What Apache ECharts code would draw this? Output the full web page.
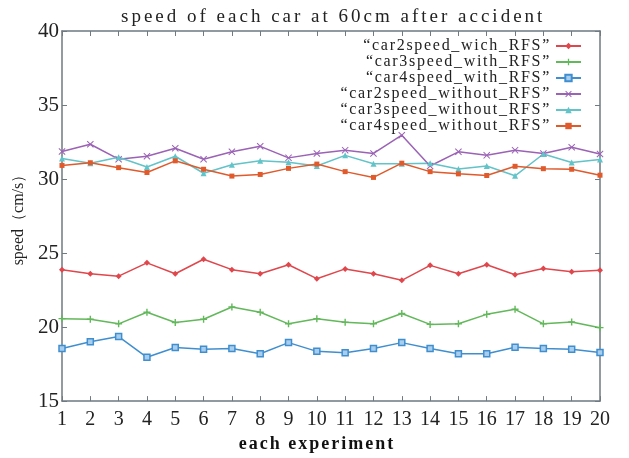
<!DOCTYPE html>
<html>
<head>
<meta charset="utf-8">
<script src="https://cdn.jsdelivr.net/npm/echarts@6/dist/echarts.min.js"></script>
<style>
html, body { margin: 0; padding: 0; background: #fff; }
#chart { width: 629px; height: 458px; }
</style>
</head>
<body>
<div id="chart"></div>
<script>
// values
var experiments = ['1','2','3','4','5','6','7','8','9','10','11','12','13','14','15','16','17','18','19','20'];
var yTicks = [15, 20, 25, 30, 35, 40];

var car2With = [23.88, 23.6, 23.44, 24.34, 23.6, 24.58, 23.88, 23.6, 24.21, 23.27, 23.93, 23.6, 23.16, 24.17, 23.6, 24.21, 23.53, 23.95, 23.73, 23.84];
var car3With = [20.57, 20.53, 20.22, 21.0, 20.31, 20.53, 21.36, 21.0, 20.22, 20.57, 20.33, 20.22, 20.92, 20.18, 20.22, 20.86, 21.2, 20.22, 20.35, 19.96];
var car4With = [18.55, 19.01, 19.36, 17.96, 18.62, 18.51, 18.55, 18.2, 18.95, 18.36, 18.27, 18.55, 18.95, 18.55, 18.2, 18.2, 18.64, 18.55, 18.51, 18.29];
var car2Without = [31.86, 32.35, 31.34, 31.54, 32.08, 31.34, 31.84, 32.21, 31.43, 31.73, 31.95, 31.73, 32.96, 30.88, 31.84, 31.6, 31.95, 31.73, 32.15, 31.69];
var car3Without = [31.38, 31.07, 31.47, 30.81, 31.54, 30.39, 30.96, 31.23, 31.14, 30.88, 31.6, 31.03, 31.03, 31.07, 30.68, 30.88, 30.22, 31.69, 31.12, 31.32];
var car4Without = [30.92, 31.1, 30.77, 30.44, 31.23, 30.66, 30.2, 30.31, 30.72, 31.01, 30.5, 30.11, 31.07, 30.5, 30.35, 30.24, 30.86, 30.7, 30.66, 30.26];

var names = [
    '\u201Ccar2speed_wich_RFS\u201D',
    '\u201Ccar3speed_with_RFS\u201D',
    '\u201Ccar4speed_with_RFS\u201D',
    '\u201Ccar2speed_without_RFS\u201D',
    '\u201Ccar3speed_without_RFS\u201D',
    '\u201Ccar4speed_without_RFS\u201D'
];
var titleText = 'speed of each car at 60cm after accident';
var xName = 'each experiment';

var serif = 'Liberation Serif';
var axisGray = '#6f7a82';
var plusIcon = 'path://M4,0H6V4H10V6H6V10H4V6H0V4H4Z';
var crossIcon = 'path://M1,0L5,4L9,0L10,1L6,5L10,9L9,10L5,6L1,10L0,9L4,5L0,1Z';

// the original lettering is tracked wider than the font's default
function spacingFor(text) {
    if (text === titleText) return '3px';
    if (text === xName) return '2px';
    if (names.indexOf(text) >= 0) return '1.7px';
    return '0px';
}
var origFillText = CanvasRenderingContext2D.prototype.fillText;
CanvasRenderingContext2D.prototype.fillText = function (text, x, y, maxWidth) {
    var prev = this.letterSpacing;
    this.letterSpacing = spacingFor(text);
    if (maxWidth === undefined) {
        origFillText.call(this, text, x, y);
    } else {
        origFillText.call(this, text, x, y, maxWidth);
    }
    this.letterSpacing = prev;
};

function line(name, data, color, symbol, size, fill) {
    return {
        name: name,
        type: 'line',
        data: data,
        symbol: symbol,
        symbolSize: size,
        showAllSymbol: true,
        lineStyle: { color: color, width: 1.5 },
        itemStyle: { color: fill || color, borderColor: color, borderWidth: fill ? 1.5 : 0 },
        animation: false
    };
}

var myChart = echarts.init(document.getElementById('chart'));

var option = {
    backgroundColor: '#fff',
    title: {
        text: titleText,
        left: 116,
        top: 3,
        textStyle: { fontFamily: serif, fontSize: 19, fontWeight: 'normal', color: '#222' }
    },
    legend: {
        orient: 'vertical',
        right: 42,
        top: 33,
        align: 'right',
        itemWidth: 25,
        itemHeight: 8,
        itemGap: 0,
        data: names,
        textStyle: { fontFamily: serif, fontSize: 16, color: '#222' }
    },
    grid: { left: 62, right: 29, top: 31, bottom: 48 },
    xAxis: [
        {
            type: 'category',
            data: experiments,
            boundaryGap: false,
            name: xName,
            nameLocation: 'middle',
            nameGap: 29,
            nameTextStyle: { fontFamily: serif, fontSize: 18, fontWeight: 'bold', color: '#111', padding: [0, 28, 0, 0] },
            axisLine: { lineStyle: { color: axisGray, width: 1.5 } },
            axisTick: { inside: true, length: 5, alignWithLabel: true, lineStyle: { color: axisGray } },
            axisLabel: { fontFamily: serif, fontSize: 20, color: '#222', margin: 9 },
            splitLine: { show: false }
        },
        {
            type: 'category',
            data: experiments,
            boundaryGap: false,
            position: 'top',
            axisLine: { lineStyle: { color: axisGray, width: 1.5 } },
            axisTick: { inside: true, length: 5, lineStyle: { color: axisGray } },
            axisLabel: { show: false },
            splitLine: { show: false }
        }
    ],
    yAxis: [
        {
            type: 'value',
            min: yTicks[0],
            max: yTicks[yTicks.length - 1],
            interval: 5,
            name: 'speed\uFF08cm/s\uFF09',
            nameLocation: 'middle',
            nameGap: 34,
            nameTextStyle: { fontFamily: serif, fontSize: 16, color: '#222' },
            axisLine: { show: true, lineStyle: { color: axisGray, width: 1.5 } },
            axisTick: { show: true, inside: true, length: 5, lineStyle: { color: axisGray } },
            axisLabel: { fontFamily: serif, fontSize: 21, color: '#222', margin: 3 },
            splitLine: { show: false }
        },
        {
            type: 'value',
            min: yTicks[0],
            max: yTicks[yTicks.length - 1],
            interval: 5,
            position: 'right',
            axisLine: { show: true, lineStyle: { color: axisGray, width: 1.5 } },
            axisTick: { show: true, inside: true, length: 5, lineStyle: { color: axisGray } },
            axisLabel: { show: false },
            splitLine: { show: false }
        }
    ],
    series: [
        line(names[0], car2With, '#e0474c', 'diamond', 6),
        line(names[1], car3With, '#62b85a', plusIcon, 7),
        line(names[2], car4With, '#3f8fd0', 'rect', 6, '#a9cdec'),
        line(names[3], car2Without, '#9b62b5', crossIcon, 7),
        line(names[4], car3Without, '#62c3c8', 'triangle', 6),
        line(names[5], car4Without, '#e05a2c', 'rect', 5)
    ]
};

myChart.setOption(option);
window.addEventListener('resize', function () {
    myChart.resize();
});
</script>
</body>
</html>
